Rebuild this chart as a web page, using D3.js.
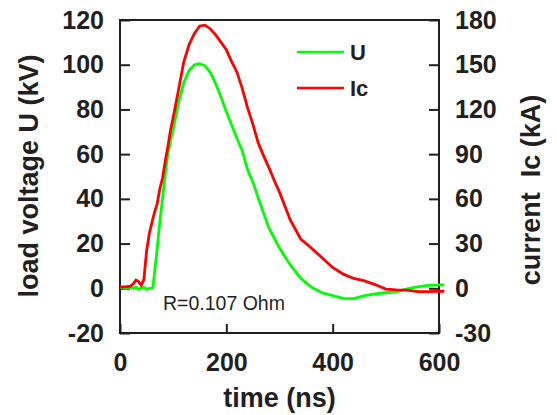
<!DOCTYPE html>
<html>
<head>
<meta charset="utf-8">
<script src="https://cdn.jsdelivr.net/npm/d3@7"></script>
<style>
  html, body { margin: 0; padding: 0; background: #fff; }
  svg text { font-family: "Liberation Sans", Arial, Helvetica, sans-serif; fill: #231f20; }
</style>
</head>
<body>
<div id="chart"></div>
<script>
// Load voltage and current traces
const timeNs = [0, 10, 20, 25, 30, 35, 40, 45, 50, 55, 60, 62, 65, 70, 75, 80, 85, 90, 95, 100,
  110, 120, 130, 140, 150, 160, 170, 180, 190, 200, 210, 220, 230, 240, 250, 260, 270, 280, 290, 300,
  320, 340, 360, 380, 400, 420, 440, 460, 480, 500, 520, 540, 560, 580, 600, 610];

const voltageKV = [0.5, 0, 0.5, 0, 0.5, -0.5, 0, 0.5, -0.5, 0, 0, 0.5, 7, 18, 30, 40, 51, 60, 66, 71,
  83, 92, 97.5, 100, 100.5, 99.5, 96.5, 91.5, 85.5, 79, 73, 67, 61.5, 53, 47.5, 40.5, 33.6, 27, 22.5, 18,
  10.5, 4.5, 0.5, -2, -3.3, -4.5, -4.6, -3.3, -2.5, -2, -1.6, -0.3, 0.6, 1.3, 1.5, 1.5];

const currentKA = [1, 1, 1.5, 3, 5.5, 4.5, 2, 6, 25, 36.5, 44, 47, 51, 57, 67, 74, 85, 95, 106, 114.5,
  133, 152, 163.5, 171, 176, 176.5, 174, 170, 165, 160, 152, 145, 134, 121, 110, 97.5, 89, 81, 72.5, 64.5,
  46, 33, 27, 20.5, 14, 9.5, 6.6, 5, 2.5, -0.5, -1, -1.2, -2.2, -2.2, -2, -2];

const xTicks = [0, 200, 400, 600];
const uTicks = [-20, 0, 20, 40, 60, 80, 100, 120];
const iTicks = [-30, 0, 30, 60, 90, 120, 150, 180];

const series = [
  { name: "U", values: voltageKV, color: "#00ff00", axis: "u" },
  { name: "Ic", values: currentKA, color: "#ff0000", axis: "i" },
];

const width = 557, height = 415;
const margin = { top: 20, right: 118, bottom: 82, left: 120 };
const ink = "#231f20";

const svg = d3.select("#chart").append("svg")
  .attr("width", width)
  .attr("height", height);

const x = d3.scaleLinear().domain([0, 600]).range([margin.left, width - margin.right]);
const yU = d3.scaleLinear().domain([-20, 120]).range([height - margin.bottom, margin.top]);
const yI = d3.scaleLinear().domain([-30, 180]).range([height - margin.bottom, margin.top]);

// plain hyphen for negatives, as in the original
const fmt = (d) => String(d);

// Axes with inward ticks
function styleAxis(g) {
  g.select(".domain").remove();
  g.selectAll(".tick line").attr("stroke", ink).attr("stroke-width", 2);
  g.selectAll(".tick text")
    .attr("fill", ink)
    .style("font-size", "25px")
    .style("font-weight", "bold");
}

svg.append("g")
  .attr("transform", `translate(${margin.left},0)`)
  .call(d3.axisLeft(yU).tickValues(uTicks).tickFormat(fmt)
    .tickSizeInner(-10).tickSizeOuter(0).tickPadding(16))
  .call(styleAxis);

svg.append("g")
  .attr("transform", `translate(${width - margin.right},0)`)
  .call(d3.axisRight(yI).tickValues(iTicks).tickFormat(fmt)
    .tickSizeInner(-10).tickSizeOuter(0).tickPadding(16))
  .call(styleAxis);

svg.append("g")
  .attr("transform", `translate(0,${height - margin.bottom})`)
  .call(d3.axisBottom(x).tickValues(xTicks).tickFormat(fmt)
    .tickSizeInner(-9).tickSizeOuter(0).tickPadding(20))
  .call(styleAxis);

// Frame
svg.append("rect")
  .attr("x", x(0))
  .attr("y", yU(120))
  .attr("width", x(600) - x(0))
  .attr("height", yU(-20) - yU(120))
  .attr("fill", "none")
  .attr("stroke", ink)
  .attr("stroke-width", 2);

// Traces
series.forEach((s) => {
  const y = s.axis === "u" ? yU : yI;
  const line = d3.line()
    .x((d, i) => x(timeNs[i]))
    .y((d) => y(d));
  svg.append("path")
    .datum(s.values)
    .attr("d", line)
    .attr("fill", "none")
    .attr("stroke", s.color)
    .attr("stroke-width", 2.8)
    .attr("stroke-linejoin", "miter");
});

// Legend
const legend = svg.append("g");
series.forEach((s, i) => {
  const ly = 52 + i * 36;
  legend.append("line")
    .attr("x1", 297).attr("x2", 344)
    .attr("y1", ly).attr("y2", ly)
    .attr("stroke", s.color)
    .attr("stroke-width", 2.5);
  legend.append("text")
    .attr("x", 350)
    .attr("y", ly + 8)
    .style("font-size", "22px")
    .style("font-weight", "bold")
    .text(s.name);
});

// Annotation
svg.append("text")
  .attr("x", 163)
  .attr("y", 310)
  .style("font-size", "19.5px")
  .text("R=0.107 Ohm");

// Axis titles
svg.append("text")
  .attr("x", (x(0) + x(600)) / 2)
  .attr("y", 407)
  .attr("text-anchor", "middle")
  .style("font-size", "27px")
  .style("font-weight", "bold")
  .text("time (ns)");

svg.append("text")
  .attr("transform", "translate(38,176) rotate(-90)")
  .attr("text-anchor", "middle")
  .style("font-size", "27px")
  .style("font-weight", "bold")
  .text("load voltage U (kV)");

svg.append("text")
  .attr("transform", "translate(540,190) rotate(-90)")
  .attr("text-anchor", "middle")
  .style("font-size", "27px")
  .style("font-weight", "bold")
  .style("white-space", "pre")
  .text("current  Ic (kA)");
</script>
</body>
</html>
